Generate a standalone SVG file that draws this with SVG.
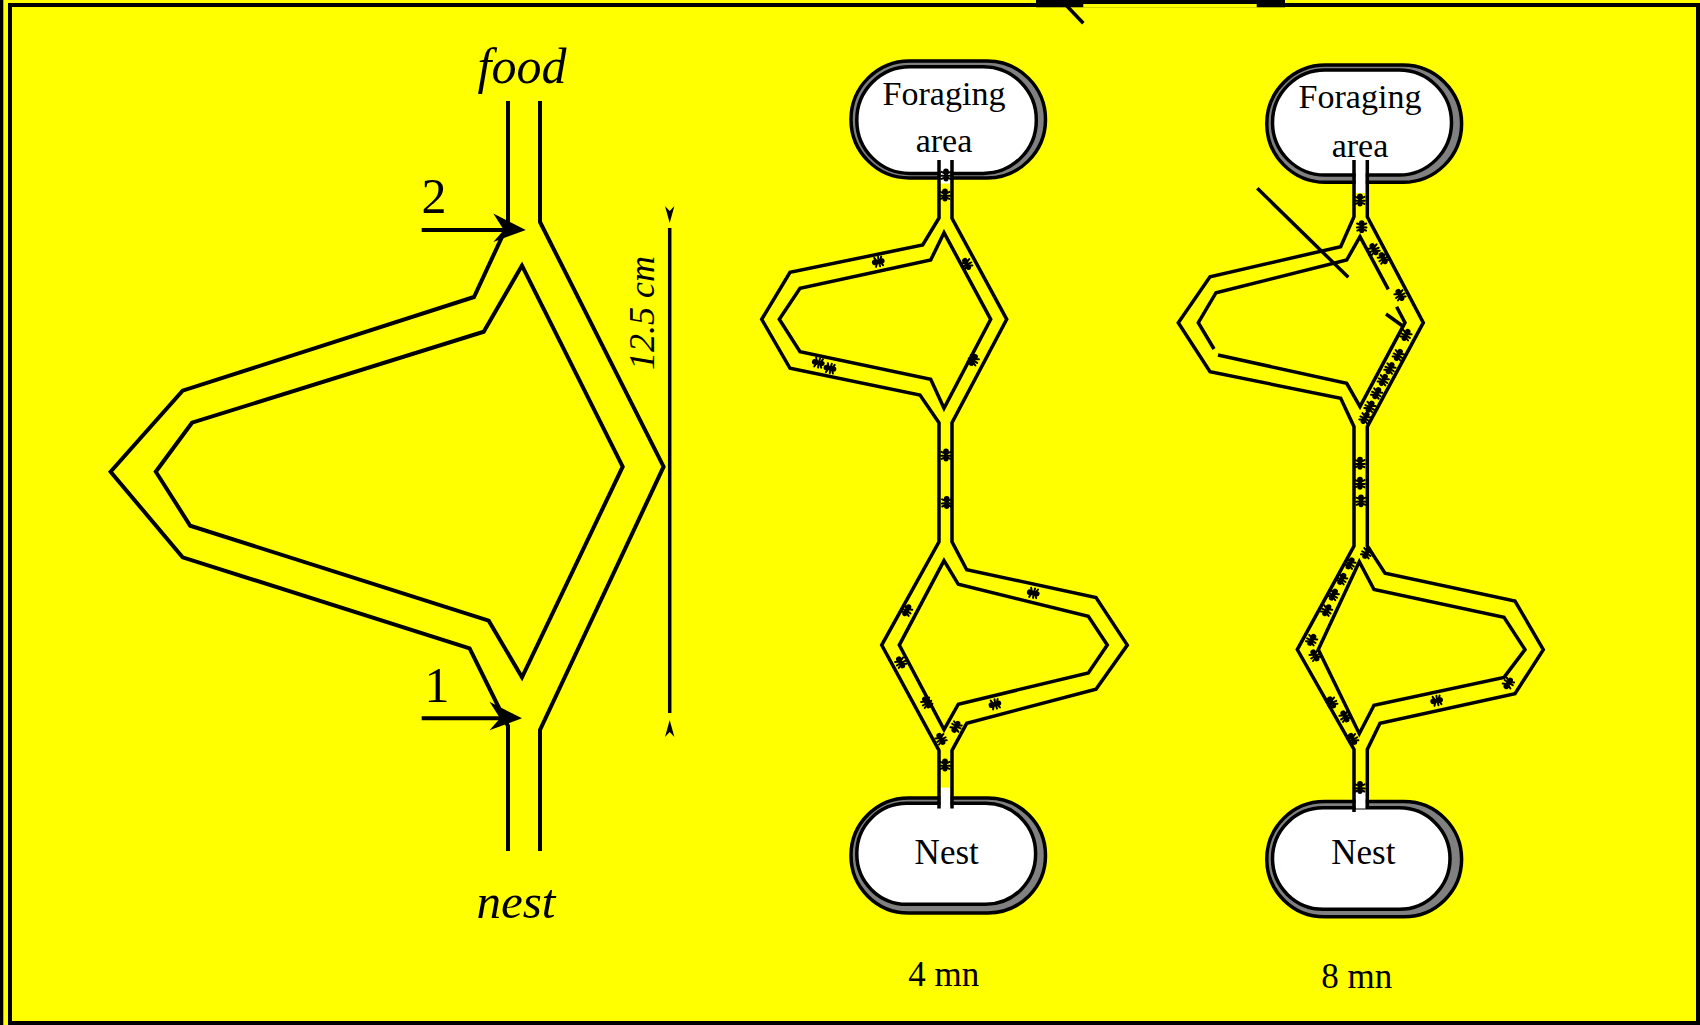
<svg xmlns="http://www.w3.org/2000/svg" xmlns:xlink="http://www.w3.org/1999/xlink" width="1700" height="1025" viewBox="0 0 1700 1025">
  <style>
    .ch { fill: none; stroke: #000; stroke-width: 3.5; stroke-linejoin: miter; stroke-linecap: butt; }
    .lp { fill: none; stroke: #000; stroke-width: 4; stroke-linejoin: miter; }
    .serif { font-family: "Liberation Serif", "Times New Roman", serif; fill: #000; }
    .it { font-style: italic; }
    .box-back { fill: #808080; stroke: #000; stroke-width: 3.5; }
    .box-front { fill: #fff; stroke: #000; stroke-width: 3.5; }
    .gap { fill: #fff; }
  </style>
  <defs>
    <!-- small ant silhouette, body along the x axis -->
    <g id="ant">
      <ellipse cx="-3.4" cy="0" rx="3.1" ry="2.9"/>
      <ellipse cx="0.4" cy="0" rx="2.4" ry="2.1"/>
      <ellipse cx="3.7" cy="0" rx="2.7" ry="2.6"/>
      <path d="M-1.2,0 L-3.2,-4.6 M0.4,0 L0.8,-4.8 M1.8,0 L3.9,-4.4 M-1.2,0 L-3.2,4.6 M0.4,0 L0.8,4.8 M1.8,0 L3.9,4.4" fill="none" stroke="#000" stroke-width="2" stroke-linecap="round"/>
    </g>
    <!-- barbed arrowhead, tip at origin pointing +x -->
    <path id="head" d="M0,0 L-32.5,-16.5 L-22,0 L-32.5,12 Z"/>
  </defs>

  <!-- background and frame -->
  <rect x="0" y="0" width="1700" height="1025" fill="#ffff00"/>
  <rect x="10" y="5" width="1688" height="1018" fill="none" stroke="#000" stroke-width="4"/>
  <rect x="0" y="0" width="3.3" height="1025" fill="#000"/>
  <rect x="1036" y="0" width="249" height="7.3" fill="#000"/>
  <rect x="1083.3" y="4" width="173.4" height="3.5" fill="#ffff00"/>
  <line x1="1066" y1="5" x2="1083.3" y2="23.3" stroke="#000" stroke-width="3.5"/>

  <!-- two-branch bridge with dimensions -->
  <g id="bridge">
    <path class="lp" d="M508,101 L508,224 L474,297 L182.6,390.7 L110.6,471.7 L182.6,557.3 L469.6,648.3 L508,726 L508,851"/>
    <path class="lp" d="M540,101 L540,222 L663.6,466.7 L540,730 L540,851"/>
    <path class="lp" d="M522,265.6 L483.7,331.7 L192,422.7 L155.8,471.7 L190.2,525.7 L488.7,620.7 L522,677.3 L622.7,466.7 Z"/>
    <text class="serif it" x="522" y="83" font-size="50" text-anchor="middle">food</text>
    <text class="serif it" x="516" y="918" font-size="49" text-anchor="middle">nest</text>
  </g>

  <g id="entry-2">
    <line x1="421.7" y1="230" x2="505" y2="230" stroke="#000" stroke-width="4"/>
    <use href="#head" transform="translate(525.8,230)"/>
    <text class="serif" x="434" y="213" font-size="50" text-anchor="middle">2</text>
  </g>
  <g id="entry-1">
    <line x1="421.7" y1="718.3" x2="502" y2="718.3" stroke="#000" stroke-width="4"/>
    <use href="#head" transform="translate(522,718.3)"/>
    <text class="serif" x="437" y="702" font-size="50" text-anchor="middle">1</text>
  </g>

  <g id="scale-bar">
    <line x1="669.7" y1="228" x2="669.7" y2="713" stroke="#000" stroke-width="3.5"/>
    <path d="M669.7,223 L665,206 L669.7,211 L674.4,206 Z"/>
    <path d="M669.7,720 L665,737 L669.7,732 L674.4,737 Z"/>
    <text class="serif it" font-size="36" text-anchor="middle" transform="translate(654,313) rotate(-90)">12.5 cm</text>
  </g>

  <!-- 4 mn: boxes -->
  <g id="foraging-4">
    <rect class="box-back" x="851" y="61" width="194.5" height="117" rx="58.5"/>
    <rect class="box-front" x="856.8" y="66.7" width="179.5" height="106.7" rx="53"/>
    <text class="serif" x="944" y="105" font-size="34" text-anchor="middle">Foraging</text>
    <text class="serif" x="944" y="151.7" font-size="34" text-anchor="middle">area</text>
  </g>
  <g id="nest-4">
    <rect class="box-back" x="851" y="798" width="194.5" height="115" rx="57.5"/>
    <rect class="box-front" x="856.8" y="803.3" width="178.8" height="101" rx="50"/>
    <text class="serif" x="946.7" y="864" font-size="35" text-anchor="middle">Nest</text>
  </g>

  <!-- 8 mn: boxes -->
  <g id="foraging-8">
    <rect class="box-back" x="1266.8" y="65" width="194.8" height="117.3" rx="58.6"/>
    <rect class="box-front" x="1272.5" y="70" width="179" height="105" rx="52.5"/>
    <text class="serif" x="1360" y="108.3" font-size="34" text-anchor="middle">Foraging</text>
    <text class="serif" x="1360" y="156.7" font-size="34" text-anchor="middle">area</text>
  </g>
  <g id="nest-8">
    <rect class="box-back" x="1266.8" y="801.5" width="194.8" height="115.3" rx="57.6"/>
    <rect class="box-front" x="1272.5" y="807.8" width="177.5" height="101.5" rx="50.7"/>
    <text class="serif" x="1363.3" y="864" font-size="35" text-anchor="middle">Nest</text>
  </g>

  <!-- channels between the boxes -->
  <g id="connectors">
    <!-- 4 mn -->
    <rect class="gap" x="940.5" y="160" width="10" height="23.5"/>
    <rect class="gap" x="940.5" y="787.6" width="10" height="21"/>
    <path class="ch" d="M939,160 L939,218 L922.7,245 L790,272.3 L761.7,319.3 L790,368.3 L920,395 L939,422.7 L939,541.9 L881.7,645.1 L939,750.4 L939,808.5"/>
    <path class="ch" d="M952,160 L952,218.3 L1006.7,319.3 L952,422.7 L952,541.9 L966.7,569.7 L1096,597.5 L1127.3,645.1 L1096,689.2 L966.7,723.3 L952,750.4 L952,808.5"/>
    <path class="ch" d="M944,232.7 L930.7,260 L800,288.3 L779.3,319.3 L800,351.7 L930.7,379.3 L944,408.3 L990.7,319.3 Z"/>
    <path class="ch" d="M944,560.6 L899.3,645.1 L944,729.6 L958.3,704.2 L1088.3,672.9 L1107.3,645.1 L1088.3,616.3 L958.3,584.3 Z"/>

    <!-- 8 mn -->
    <rect class="gap" x="1355.7" y="160" width="10" height="33"/>
    <rect class="gap" x="1355.7" y="791" width="10" height="17.5"/>
    <path class="ch" d="M1354,160 L1354,216.7 L1340.7,246.7 L1210,276.7 L1178.3,322.7 L1210,371.7 L1340.7,398.3 L1354,426.7 L1354,546 L1297.3,649.6 L1354,749.4 L1354,812"/>
    <path class="ch" d="M1367.3,160 L1367.3,216.7 L1423.3,322.7 L1367.3,426.7 L1367.3,546 L1385,573.2 L1515,601 L1543.3,649.6 L1515,693.8 L1380,723.3 L1367.3,749.4 L1367.3,808.5"/>
    <path class="ch" d="M1388.3,289.3 L1360,236.7 L1346.7,260 L1216,292.7 L1198.3,322.7 L1214,349 M1218,355 L1346.7,383.3 L1360,406.7 L1405,322.7 L1396.6,306.7"/>
    <path class="ch" d="M1386,314 L1404,327"/>
    <path class="ch" d="M1257.3,188.3 L1348.3,277.3"/>
    <path class="ch" d="M1359.3,561.7 L1318.3,649.6 L1359.3,733.7 L1374,705.2 L1504,677.4 L1525,649.6 L1504,617.3 L1374,589.5 Z"/>
  </g>

  <!-- ants, 4 mn -->
  <g id="ants-4">
    <use href="#ant" transform="translate(946,175) rotate(90)"/>
    <use href="#ant" transform="translate(945,195) rotate(90)"/>
    <use href="#ant" transform="translate(878.3,261.7) rotate(-12)"/>
    <use href="#ant" transform="translate(966.7,264) rotate(62)"/>
    <use href="#ant" transform="translate(818.3,362.7) rotate(12)"/>
    <use href="#ant" transform="translate(830,368.3) rotate(12)"/>
    <use href="#ant" transform="translate(973.3,360) rotate(118)"/>
    <use href="#ant" transform="translate(946,455) rotate(90)"/>
    <use href="#ant" transform="translate(946.7,502.6) rotate(90)"/>
    <use href="#ant" transform="translate(1033.3,593) rotate(12)"/>
    <use href="#ant" transform="translate(906.7,610.3) rotate(119)"/>
    <use href="#ant" transform="translate(900.7,662.5) rotate(61)"/>
    <use href="#ant" transform="translate(926.7,702.5) rotate(61)"/>
    <use href="#ant" transform="translate(995,704.2) rotate(-15)"/>
    <use href="#ant" transform="translate(956,726.8) rotate(-61)"/>
    <use href="#ant" transform="translate(941,739) rotate(61)"/>
    <use href="#ant" transform="translate(945,765) rotate(90)"/>
  </g>

  <!-- ants, 8 mn -->
  <g id="ants-8">
    <use href="#ant" transform="translate(1360,200) rotate(90)"/>
    <use href="#ant" transform="translate(1361.7,226.7) rotate(90)"/>
    <use href="#ant" transform="translate(1374,249.3) rotate(62)"/>
    <use href="#ant" transform="translate(1383.3,258.3) rotate(62)"/>
    <use href="#ant" transform="translate(1400,295) rotate(62)"/>
    <use href="#ant" transform="translate(1406,335) rotate(118)"/>
    <use href="#ant" transform="translate(1398.3,355) rotate(118)"/>
    <use href="#ant" transform="translate(1390,368.3) rotate(118)"/>
    <use href="#ant" transform="translate(1383.3,380) rotate(118)"/>
    <use href="#ant" transform="translate(1376.7,393.3) rotate(118)"/>
    <use href="#ant" transform="translate(1370,406.7) rotate(118)"/>
    <use href="#ant" transform="translate(1365,418) rotate(118)"/>
    <use href="#ant" transform="translate(1360,463.3) rotate(90)"/>
    <use href="#ant" transform="translate(1360,483.3) rotate(90)"/>
    <use href="#ant" transform="translate(1361,500.9) rotate(90)"/>
    <use href="#ant" transform="translate(1366.7,553) rotate(119)"/>
    <use href="#ant" transform="translate(1350,563.4) rotate(119)"/>
    <use href="#ant" transform="translate(1341.7,579) rotate(119)"/>
    <use href="#ant" transform="translate(1333.3,594.7) rotate(119)"/>
    <use href="#ant" transform="translate(1326.7,610.3) rotate(119)"/>
    <use href="#ant" transform="translate(1311.7,640) rotate(119)"/>
    <use href="#ant" transform="translate(1315,655.5) rotate(61)"/>
    <use href="#ant" transform="translate(1331.7,702.5) rotate(61)"/>
    <use href="#ant" transform="translate(1345,716.4) rotate(61)"/>
    <use href="#ant" transform="translate(1352.7,739) rotate(61)"/>
    <use href="#ant" transform="translate(1360,787.6) rotate(90)"/>
    <use href="#ant" transform="translate(1436.7,700.7) rotate(-12)"/>
    <use href="#ant" transform="translate(1508.3,683.3) rotate(-57)"/>
  </g>

  <text class="serif" x="943.7" y="985.7" font-size="35" text-anchor="middle">4 mn</text>
  <text class="serif" x="1356.7" y="987.5" font-size="35" text-anchor="middle">8 mn</text>
</svg>
